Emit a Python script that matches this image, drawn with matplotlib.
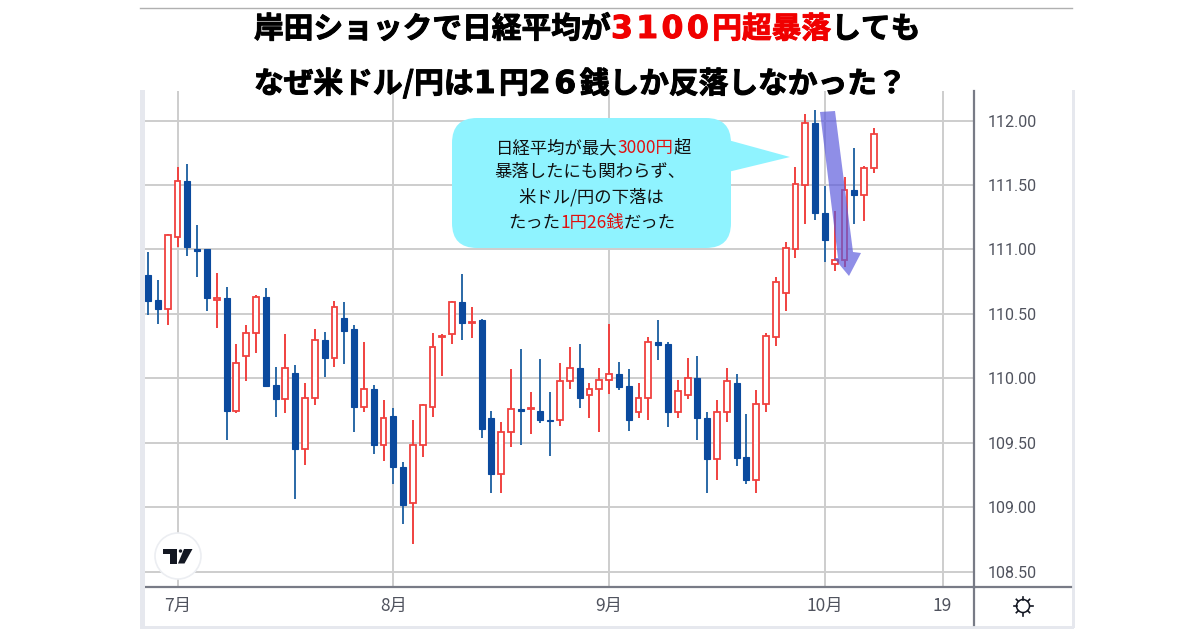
import matplotlib
matplotlib.use("Agg")
import matplotlib.pyplot as plt
import matplotlib.patheffects as pe
from matplotlib.patches import FancyBboxPatch, Polygon, Circle, Rectangle

JP = "Noto Sans CJK JP"

opens = [110.80, 110.61, 110.54, 111.10, 111.53, 111.00, 111.00, 110.61, 110.62, 109.75,
         110.17, 110.35, 110.63, 109.95, 109.84, 110.04, 109.45, 109.85, 110.30, 110.16,
         110.47, 110.38, 109.78, 109.92, 109.48, 109.71, 109.31, 109.03, 109.48, 109.78,
         110.32, 110.34, 110.59, 110.43, 110.45, 109.69, 109.26, 109.58, 109.76, 109.76,
         109.75, 109.68, 109.68, 109.98, 110.08, 109.87, 109.92, 109.99, 110.03, 109.94,
         109.74, 109.85, 110.28, 110.27, 109.74, 109.87, 110.00, 109.69, 109.37, 109.74,
         109.96, 109.39, 109.21, 109.80, 110.32, 110.66, 111.00, 111.50, 111.98, 111.28,
         110.89, 110.92, 111.46, 111.42, 111.63]
closes = [110.60, 110.54, 111.11, 111.53, 111.02, 110.99, 110.62, 110.62, 109.75, 110.12,
          110.35, 110.63, 109.94, 109.84, 110.08, 109.45, 109.85, 110.30, 110.16, 110.55,
          110.37, 109.78, 109.92, 109.48, 109.69, 109.31, 109.02, 109.48, 109.79, 110.24,
          110.33, 110.59, 110.43, 110.44, 109.61, 109.26, 109.58, 109.76, 109.75, 109.77,
          109.68, 109.67, 109.98, 110.08, 109.85, 109.92, 109.99, 110.03, 109.93, 109.68,
          109.85, 110.28, 110.26, 109.74, 109.90, 110.00, 109.69, 109.37, 109.74, 109.98,
          109.38, 109.21, 109.80, 110.33, 110.75, 111.01, 111.51, 111.98, 111.28, 111.07,
          110.92, 111.46, 111.42, 111.63, 111.90]
highs = [110.98, 110.76, 111.12, 111.64, 111.66, 111.19, 111.00, 110.82, 110.71, 110.27,
         110.41, 110.65, 110.70, 110.09, 110.34, 110.10, 109.96, 110.38, 110.36, 110.60,
         110.59, 110.41, 110.28, 109.95, 109.83, 109.77, 109.35, 109.68, 109.80, 110.35,
         110.34, 110.60, 110.81, 110.55, 110.46, 109.75, 109.66, 110.07, 110.23, 109.89,
         110.15, 109.89, 110.12, 110.24, 110.27, 109.96, 110.08, 110.42, 110.13, 110.07,
         109.96, 110.32, 110.45, 110.28, 109.99, 110.16, 110.17, 109.74, 109.83, 110.08,
         110.03, 109.72, 109.91, 110.35, 110.79, 111.06, 111.64, 112.05, 112.08, 111.49,
         111.30, 111.56, 111.79, 111.65, 111.94]
lows = [110.49, 110.42, 110.41, 111.02, 110.95, 110.79, 110.52, 110.39, 109.52, 109.73,
        109.98, 110.20, 109.93, 109.70, 109.73, 109.06, 109.33, 109.79, 110.01, 110.09,
        110.11, 109.58, 109.74, 109.41, 109.36, 109.18, 108.87, 108.71, 109.39, 109.70,
        110.02, 110.27, 110.30, 110.31, 109.54, 109.11, 109.11, 109.47, 109.48, 109.57,
        109.65, 109.40, 109.63, 109.92, 109.77, 109.69, 109.58, 109.88, 109.91, 109.59,
        109.69, 109.68, 110.14, 109.62, 109.69, 109.84, 109.52, 109.11, 109.21, 109.66,
        109.32, 109.18, 109.11, 109.74, 110.25, 110.52, 110.93, 111.20, 111.23, 110.90,
        110.83, 110.86, 111.20, 111.22, 111.59]

y_ticks = [112.0, 111.5, 111.0, 110.5, 110.0, 109.5, 109.0, 108.5]
x_ticks = [3, 25, 47, 69, 81]
x_labels = ["7月", "8月", "9月", "10月", "19"]

title_line1 = [("岸田ショックで日経平均が", "black"), ("3", "#f00000"), ("1", "#f00000"), ("0", "#f00000"), ("0", "#f00000"),
               ("円超暴落", "#f00000"), ("しても", "black")]
title_line2 = [("なぜ米ドル/円は", "black"), ("1", "black"), ("円", "black"), ("2", "black"), ("6", "black"),
               ("銭しか反落しなかった？", "black")]
note_lines = [
    [("日経平均が最大", "#111111"), ("3000円", "#e01010"), ("超", "#111111")],
    [("暴落したにも関わらず、", "#111111")],
    [("米ドル/円の下落は", "#111111")],
    [("たった", "#111111"), ("1円26銭", "#e01010"), ("だった", "#111111")],
]

BLUE = "#0b4a9e"
BLUE_WICK = "#2a68a6"
RED = "#f0413f"


def draw_runs(ax, fig, x, y, runs, size, weight="normal", stroke=0, center=False):
    # measure each piece so coloured runs sit side by side on one line
    renderer = fig.canvas.get_renderer()
    items = []
    total = 0
    for text, color in runs:
        digits = text.isdigit() and weight == "bold"
        t = ax.text(0, y, text, color=color, va="baseline", ha="left", fontweight=weight, zorder=7,
                    family="DejaVu Sans" if digits else JP, fontsize=size * 1.06 if digits else size)
        if stroke:
            t.set_path_effects([pe.withStroke(linewidth=stroke, foreground=color)])
        w = t.get_window_extent(renderer).width
        gap = 3.5 if digits else 0
        items.append((t, w + gap))
        total += w + gap
    pos = x - total / 2 if center else x
    for t, w in items:
        t.set_x(pos)
        pos += w


fig = plt.figure(figsize=(12, 6.3), dpi=100)
fig.patch.set_facecolor("white")

ax = fig.add_axes([145 / 1200, (630 - 587) / 630, 829 / 1200, 496 / 630])
ax.set_xlim(-0.316, 84.2)
ax.set_ylim(108.38, 112.23)
ax.set_axisbelow(True)
ax.grid(True, color="#cdcdcd", linewidth=1.4)

for i in range(len(opens)):
    up = closes[i] >= opens[i]
    wick = RED if up else BLUE_WICK
    ax.vlines(i, lows[i], highs[i], color=wick, linewidth=1.4, zorder=2)
    bottom = min(opens[i], closes[i])
    height = abs(closes[i] - opens[i])
    if up:
        ax.bar(i, height, 0.6, bottom=bottom, facecolor="white", edgecolor=RED, linewidth=1.3, zorder=3)
    else:
        ax.bar(i, height, 0.62, bottom=bottom, facecolor=BLUE, edgecolor=BLUE, linewidth=0.8, zorder=3)

ax.set_xticks(x_ticks)
ax.set_xticklabels(x_labels)
ax.set_yticks(y_ticks)
ax.set_yticklabels(["%.2f" % v for v in y_ticks])
ax.yaxis.tick_right()
ax.tick_params(axis="y", length=0, pad=10, labelsize=11.5, labelcolor="#50535e")
ax.tick_params(axis="x", length=0, pad=7, labelsize=12.5, labelcolor="#50535e")
for lab in ax.get_xticklabels():
    lab.set_family(JP)
for lab in ax.get_yticklabels():
    lab.set_family("Roboto")
for side in ["top", "left"]:
    ax.spines[side].set_visible(False)
for side in ["right", "bottom"]:
    ax.spines[side].set_color("#787b86")
    ax.spines[side].set_linewidth(1.6)

# overlay in picture pixels for everything pasted over the chart
ov = fig.add_axes([0, 0, 1, 1], zorder=5)
ov.set_xlim(0, 1200)
ov.set_ylim(630, 0)
ov.axis("off")
ov.patch.set_alpha(0)

ov.plot([140, 1072], [8, 8], color="#b0b0b0", linewidth=1)
ov.add_patch(Rectangle((140, 90), 4.5, 538, color="#e6e8ee", lw=0))
ov.add_patch(Rectangle((140, 626), 934, 2.5, color="#e6e8ee", lw=0))
ov.add_patch(Rectangle((1072, 90), 2.5, 538, color="#e6e8ee", lw=0))
ov.plot([974, 1071], [586.7, 586.7], color="#787b86", linewidth=1.6)
ov.plot([974, 974], [587, 625], color="#787b86", linewidth=1.6)

# callout
ov.add_patch(FancyBboxPatch((477, 118 + 25), 229, 80, boxstyle="round,pad=25,rounding_size=25",
                            facecolor="#8ff3ff", edgecolor="none", zorder=6))
ov.add_patch(Polygon([(728, 140), (790, 157), (728, 172)], closed=True, facecolor="#8ff3ff",
                     edgecolor="none", zorder=6))
note_y = [153, 177, 202, 228]
note_x = [593, 590, 591, 592]
for line, x0, y0 in zip(note_lines, note_x, note_y):
    draw_runs(ov, fig, x0, y0, line, 12.5, center=True)

# down arrow
ov.add_patch(Polygon([(820, 112), (835, 111), (853, 252), (861, 253), (849, 276), (834, 258), (838, 258)],
                     closed=True, facecolor="#5a58dc", alpha=0.68, edgecolor="none", zorder=7))

# titles
draw_runs(ov, fig, 254, 38, title_line1, 21.4, weight="bold", stroke=0.7)
draw_runs(ov, fig, 254, 93, title_line2, 21.4, weight="bold", stroke=0.7)

# TradingView badge
ov.add_patch(Circle((178, 556), 23, facecolor="white", edgecolor="#eceef2", linewidth=1.2, zorder=8))
ov.add_patch(Polygon([(162.5, 549), (177, 549), (177, 563.5), (169.5, 563.5), (169.5, 554), (162.5, 554)],
                     closed=True, facecolor="#131722", edgecolor="none", zorder=9))
ov.add_patch(Polygon([(184, 549), (192.5, 549), (184.5, 563.5), (178, 563.5)],
                     closed=True, facecolor="#131722", edgecolor="none", zorder=9))
ov.add_patch(Circle((180.5, 551), 1.7, facecolor="#131722", edgecolor="none", zorder=9))

# settings gear
ov.add_patch(Circle((1023, 606), 6.5, facecolor="white", edgecolor="#131722", linewidth=1.1, zorder=8))
for dx, dy in [(0, 1), (1, 0), (0.7, 0.7), (0.7, -0.7)]:
    ov.plot([1023 - 9.5 * dx, 1023 - 6.5 * dx], [606 - 9.5 * dy, 606 - 6.5 * dy], color="#131722", linewidth=1.2, zorder=8)
    ov.plot([1023 + 6.5 * dx, 1023 + 9.5 * dx], [606 + 6.5 * dy, 606 + 9.5 * dy], color="#131722", linewidth=1.2, zorder=8)

fig.savefig("out.png", dpi=100)
